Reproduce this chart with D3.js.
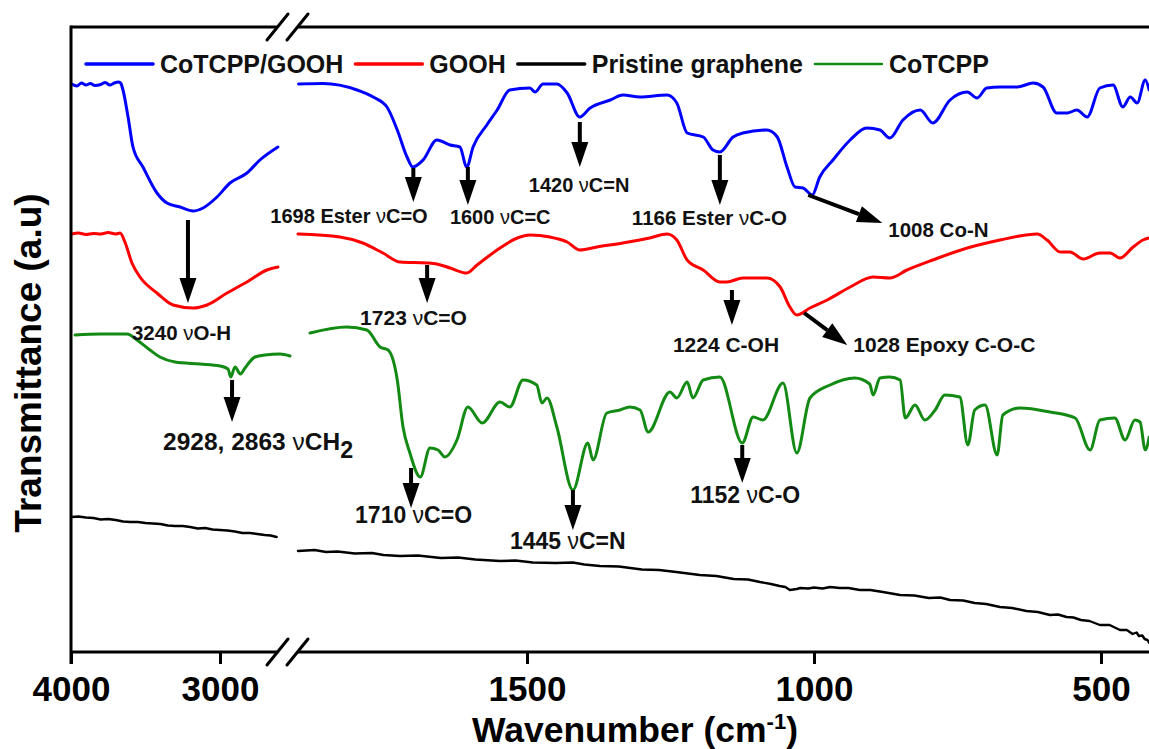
<!DOCTYPE html>
<html>
<head>
<meta charset="utf-8">
<script src="https://cdn.jsdelivr.net/npm/d3@7"></script>
<style>
  html, body { margin: 0; padding: 0; background: #fff; }
  svg { display: block; font-family: "Liberation Sans", Arial, sans-serif; font-weight: bold; }
</style>
</head>
<body>
<svg id="chart" width="1149" height="749"></svg>
<script>
// ---- FTIR spectra: wavenumber (cm-1) vs transmittance (a.u., offset traces) ----
const seriesNames = ["CoTCPP/GOOH", "GOOH", "Pristine graphene", "CoTCPP"];
const seriesColors = ["#0000ff", "#ff0000", "#000000", "#138a13"];

// High-wavenumber window (4000 - 2520 cm-1)
const blueHighWn  = [3995, 3960, 3930, 3900, 3870, 3840, 3800, 3770, 3740, 3710, 3680, 3665, 3651, 3617, 3584, 3517, 3423, 3356, 3268, 3181, 3114, 3020, 2933, 2819, 2732, 2611];
const blueHighT   = [113.6, 113.2, 113.8, 113.4, 113.7, 113.3, 113.5, 113.9, 113.4, 113.8, 114.0, 113.7, 112.4, 107, 101, 97, 91.8, 89.8, 89, 88.2, 88.8, 91, 93.8, 95.8, 98.4, 101];
const redHighWn   = [3995, 3950, 3900, 3850, 3800, 3750, 3700, 3671, 3638, 3591, 3537, 3423, 3315, 3181, 3087, 2953, 2819, 2685, 2611];
const redHighT    = [83.6, 83.8, 83.5, 83.7, 83.6, 83.9, 83.6, 83.8, 82, 77.8, 75, 71.8, 69.4, 68.8, 69.4, 71.8, 74, 76.4, 77];
const greenHighWn = [3973, 3805, 3624, 3557, 3470, 3403, 3302, 3134, 3000, 2946, 2928, 2899, 2863, 2832, 2765, 2698, 2597, 2530];
const greenHighT  = [63.4, 63.6, 63.6, 62.4, 60.4, 59, 58, 57.6, 57.2, 56.6, 55.0, 57.0, 55.6, 56.8, 59, 59.4, 59.6, 59.2];
const blackHighWn = [3995, 3950, 3900, 3850, 3800, 3750, 3700, 3650, 3600, 3550, 3500, 3450, 3400, 3350, 3300, 3250, 3200, 3150, 3100, 3050, 3000, 2950, 2900, 2850, 2800, 2750, 2700, 2660, 2620];
const blackHighT  = [27, 27.1, 26.9, 26.8, 26.5, 26.6, 26.4, 26.1, 26, 26.0, 25.8, 25.7, 25.6, 25.3, 25.2, 25.2, 25, 24.7, 24.8, 24.5, 24.4, 24.3, 24.1, 23.8, 23.8, 23.6, 23.4, 23.3, 23];

// Fingerprint window (1900 - 400 cm-1)
const blueLowWn  = [1898, 1855, 1796, 1768, 1744, 1726, 1709, 1699, 1681, 1657, 1634, 1617, 1605, 1594, 1570, 1552, 1530, 1495, 1486, 1472, 1448, 1430, 1408, 1390, 1355, 1333, 1303, 1256, 1239, 1221, 1193, 1176, 1164, 1141, 1124, 1082, 1064, 1047, 1033, 1019, 1003, 990, 967, 937, 908, 885, 868, 845, 815, 793, 763, 733, 716, 699, 676, 646, 618, 601, 577, 559, 542, 524, 502, 479, 462, 449, 437, 423, 416];
const blueLowT   = [113.6, 113.7, 112.4, 111, 109, 104.4, 99, 97, 98.4, 102.4, 101.4, 101, 97, 101, 105.4, 108.4, 112.4, 112.8, 112, 113.6, 113.6, 111.8, 107, 108.8, 110.4, 111.4, 111, 111.4, 109.8, 103.8, 103, 100.4, 100, 103, 103.8, 104.4, 103, 97, 93, 92.8, 91.4, 95, 98.4, 102.4, 104.8, 104.4, 102.8, 106.4, 108.4, 105.8, 110.4, 112, 110.8, 112.8, 113, 113, 113.8, 113, 107.8, 107.8, 108.4, 107, 112.8, 113.4, 109, 111, 109.8, 114.4, 112.4];
const redLowWn   = [1899, 1826, 1786, 1751, 1721, 1674, 1657, 1634, 1605, 1587, 1552, 1517, 1495, 1460, 1430, 1408, 1378, 1333, 1286, 1256, 1239, 1221, 1193, 1164, 1152, 1124, 1082, 1059, 1042, 1030, 1007, 977, 937, 897, 868, 838, 793, 733, 676, 611, 594, 571, 554, 531, 502, 484, 467, 444, 427, 416];
const redLowT    = [83.6, 83, 81.8, 79.8, 78, 77.8, 77.6, 76.8, 75.8, 77.4, 80.4, 82.8, 83.4, 83, 82, 80.4, 81, 81.8, 82.8, 83.6, 82.4, 78.4, 76.4, 74, 74, 74.8, 74.8, 73, 69, 67.4, 68.8, 70.4, 73, 75, 74.8, 76.4, 78.4, 80.8, 82.4, 83.6, 82.4, 80, 80, 78.6, 79.8, 79.8, 78.8, 81, 82.4, 82.8];
const greenLowWn = [1878, 1814, 1779, 1756, 1742, 1726, 1716, 1704, 1686, 1669, 1655, 1643, 1622, 1603, 1578, 1547, 1530, 1507, 1483, 1474, 1465, 1448, 1420, 1394, 1385, 1361, 1338, 1321, 1303, 1289, 1251, 1239, 1221, 1211, 1193, 1164, 1125, 1106, 1089, 1054, 1030, 1007, 972, 929, 903, 897, 885, 868, 850, 841, 824, 807, 789, 772, 746, 732, 720, 702, 681, 671, 641, 589, 545, 519, 502, 476, 458, 441, 432, 423, 416];
const greenLowT  = [63.8, 65, 64.4, 61, 60.4, 54.4, 45, 39.8, 35, 40.8, 40.4, 39, 42.4, 49, 45.8, 50, 49, 54.4, 53.4, 49.8, 50.8, 45, 32.4, 41.8, 38.4, 47.8, 48.4, 49, 48.4, 44, 52, 50.8, 54, 50.8, 54.4, 55, 41.8, 47, 46.4, 53.8, 39.8, 50.8, 53.4, 54.8, 53.6, 51.4, 54.8, 55, 54.4, 46.8, 49.4, 46.4, 48.4, 51.4, 51, 41.4, 48.4, 49.4, 39.4, 47.4, 48.8, 48, 46.8, 40.4, 46.4, 46.8, 42.4, 46.4, 46, 40.4, 43];
const blackLowWn = [1899, 1870, 1850, 1830, 1800, 1770, 1750, 1721, 1690, 1650, 1620, 1590, 1547, 1520, 1490, 1450, 1420, 1400, 1373, 1340, 1300, 1270, 1240, 1199, 1170, 1140, 1115, 1094, 1075, 1060, 1050, 1042, 1030, 1024, 1010, 1000, 985, 972, 955, 940, 920, 902, 880, 850, 825, 800, 780, 763, 740, 720, 700, 676, 655, 630, 610, 589, 575, 560, 548, 535, 520, 502, 485, 467, 455, 445, 438, 434, 428, 424, 419, 416];
const blackLowT  = [20.2, 20.4, 20.0, 20.1, 19.7, 19.8, 19.4, 19.2, 19.3, 18.8, 18.9, 18.5, 18.2, 18.3, 17.9, 17.8, 17.9, 17.5, 17.2, 17.1, 16.5, 16.4, 16.0, 15.4, 15.2, 14.6, 14.5, 14.0, 13.6, 13.2, 13.0, 12.4, 12.6, 12.8, 12.7, 12.9, 12.7, 13.0, 12.8, 12.8, 12.4, 12.4, 12.0, 11.4, 11.3, 10.8, 10.9, 10.4, 10.3, 9.8, 9.6, 9.0, 8.8, 8.2, 8.0, 7.4, 7.5, 7.0, 6.9, 6.4, 6.2, 5.4, 5.4, 4.4, 4.4, 3.6, 3.9, 3.2, 3.3, 2.6, 2.4, 1.8];

// Tick labels on the broken wavenumber axis
const highTicks = [4000, 3000];
const lowTicks  = [1500, 1000, 500];

// Band assignments: arrow wavenumber, arrow start/end transmittance
const bands = [
  { label: "3240 νO-H",        part: "high", w: 3215, from: 86.4, to: 69.8 },
  { label: "1698 Ester νC=O",  part: "low",  w: 1698, from: 96.8, to: 90.0 },
  { label: "1600 νC=C",        part: "low",  w: 1603, from: 97.0, to: 89.4 },
  { label: "1420 νC=N",        part: "low",  w: 1408, from: 106.0, to: 97.0 },
  { label: "1166 Ester νC-O",  part: "low",  w: 1164, from: 99.4, to: 89.4 },
  { label: "1008 Co-N",        part: "low",  w: 1010, from: 91.4, w2: 881, to: 85.8 },
  { label: "1723 νC=O",        part: "low",  w: 1674, from: 77.4, to: 69.8 },
  { label: "1224 C-OH",        part: "low",  w: 1143, from: 72.4, to: 65.4 },
  { label: "1028 Epoxy C-O-C", part: "low",  w: 1017, from: 67.8, w2: 942, to: 61.4 },
  { label: "2928, 2863 νCH_2", part: "high", w: 2919, from: 54.4, to: 46.0 },
  { label: "1710 νC=O",        part: "low",  w: 1702, from: 36.8, to: 28.8 },
  { label: "1445 νC=N",        part: "low",  w: 1420, from: 32.4, to: 24.4 },
  { label: "1152 νC-O",        part: "low",  w: 1125, from: 41.4, to: 33.8 }
];
// label placement relative to the arrow tip (px) and font size
const bandLayout = [
  { dx: -56, dy: 37, size: 20.5 },
  { dx: -143, dy: 21, size: 20 },
  { dx: -18, dy: 19, size: 20 },
  { dx: -51, dy: 25, size: 20 },
  { dx: -88, dy: 20, size: 20.5 },
  { dx: 6, dy: 14, size: 20.5 },
  { dx: -67, dy: 22, size: 21 },
  { dx: -59, dy: 27, size: 21 },
  { dx: 6, dy: 7, size: 21 },
  { dx: -69, dy: 28, size: 24.5 },
  { dx: -56, dy: 15, size: 23 },
  { dx: -63, dy: 19, size: 23 },
  { dx: -52, dy: 20, size: 23 }
];

const svg = d3.select("#chart");
const plotLeft = 71, plotTop = 27, plotBottom = 652, plotRight = 1149;

const xHigh = d3.scaleLinear().domain([4000, 2520]).range([plotLeft, 291.5]);
const xLow  = d3.scaleLinear().domain([1900, 400]).range([297.4, 1158.4]);
const y = d3.scaleLinear().domain([0, 125]).range([plotBottom, plotTop]);
const breakA = 277.5, breakB = 297.5;

svg.append("defs").append("clipPath").attr("id", "plotClip")
  .append("rect").attr("x", plotLeft).attr("y", plotTop)
  .attr("width", plotRight - plotLeft).attr("height", plotBottom - plotTop);

const zip = (a, b) => a.map((v, i) => [v, b[i]]);
const traces = [
  { part: "high", data: zip(blueHighWn, blueHighT),   color: seriesColors[0], width: 3,   smooth: true },
  { part: "low",  data: zip(blueLowWn, blueLowT),     color: seriesColors[0], width: 3,   smooth: true },
  { part: "high", data: zip(redHighWn, redHighT),     color: seriesColors[1], width: 3,   smooth: true },
  { part: "low",  data: zip(redLowWn, redLowT),       color: seriesColors[1], width: 3,   smooth: true },
  { part: "high", data: zip(blackHighWn, blackHighT), color: seriesColors[2], width: 2.4, smooth: false },
  { part: "low",  data: zip(blackLowWn, blackLowT),   color: seriesColors[2], width: 2.4, smooth: false },
  { part: "high", data: zip(greenHighWn, greenHighT), color: seriesColors[3], width: 3,   smooth: true },
  { part: "low",  data: zip(greenLowWn, greenLowT),   color: seriesColors[3], width: 3,   smooth: true }
];

const plot = svg.append("g").attr("clip-path", "url(#plotClip)");
traces.forEach(t => {
  const xs = t.part === "high" ? xHigh : xLow;
  const line = d3.line().x(d => xs(d[0])).y(d => y(d[1]))
    .curve(t.smooth ? d3.curveMonotoneX : d3.curveLinear);
  plot.append("path").datum(t.data)
    .attr("d", line)
    .attr("fill", "none")
    .attr("stroke", t.color)
    .attr("stroke-width", t.width)
    .attr("stroke-linejoin", "round")
    .attr("stroke-linecap", "round");
});

// ---- frame with axis break ----
const frame = svg.append("g").attr("stroke", "#000").attr("stroke-width", 3).attr("fill", "none");
frame.append("line").attr("x1", plotLeft).attr("x2", plotLeft).attr("y1", plotTop - 1.5).attr("y2", plotBottom + 12);
[plotTop, plotBottom].forEach(yy => {
  frame.append("line").attr("x1", plotLeft).attr("x2", breakA).attr("y1", yy).attr("y2", yy);
  frame.append("line").attr("x1", breakB).attr("x2", plotRight).attr("y1", yy).attr("y2", yy);
  [breakA, breakB].forEach(bx => {
    frame.append("line").attr("stroke-width", 3).attr("stroke-linecap", "round")
      .attr("x1", bx - 10.5).attr("y1", yy + 13).attr("x2", bx + 10.5).attr("y2", yy - 13);
  });
});

// ---- bottom axes ----
function styleAxis(g) {
  g.select(".domain").remove();
  g.selectAll(".tick line").attr("stroke", "#000").attr("stroke-width", 3);
  g.selectAll(".tick text")
    .attr("fill", "#000")
    .style("font-family", '"Liberation Sans", Arial, sans-serif')
    .style("font-weight", "bold")
    .style("font-size", "35px");
}
svg.append("g").attr("transform", `translate(0,${plotBottom})`)
  .call(d3.axisBottom(xHigh).tickValues(highTicks).tickSize(12).tickPadding(12).tickFormat(d3.format("d")))
  .call(styleAxis);
svg.append("g").attr("transform", `translate(0,${plotBottom})`)
  .call(d3.axisBottom(xLow).tickValues(lowTicks).tickSize(12).tickPadding(12).tickFormat(d3.format("d")))
  .call(styleAxis);

// ---- axis titles ----
const xt = svg.append("text").attr("x", 635).attr("y", 742).attr("text-anchor", "middle")
  .style("font-size", "35.5px").attr("fill", "#000");
xt.append("tspan").text("Wavenumber (cm");
xt.append("tspan").text("-1").attr("dy", -13).style("font-size", "22px");
xt.append("tspan").text(")").attr("dy", 13);

svg.append("text").attr("transform", "translate(41,363) rotate(-90)")
  .attr("text-anchor", "middle").style("font-size", "37px").attr("fill", "#000")
  .text("Transmittance (a.u)");

// ---- legend ----
const legend = svg.append("g").attr("transform", "translate(86,64)");
let lx = 0;
[0, 1, 2, 3].forEach(i => {
  legend.append("line").attr("x1", lx).attr("x2", lx + 67).attr("y1", 0).attr("y2", 0)
    .attr("stroke", seriesColors[i]).attr("stroke-width", i === 3 ? 2.5 : 3.5)
    .attr("stroke-linecap", "round");
  const t = legend.append("text").attr("x", lx + 74).attr("y", 9)
    .style("font-size", "25px").attr("fill", "#111").text(seriesNames[i]);
  lx += 74 + t.node().getComputedTextLength() + 12;
});

// ---- band annotations ----
const ann = svg.append("g");
function arrow(g, x0, y0, x1, y1) {
  const dx = x1 - x0, dy = y1 - y0, len = Math.hypot(dx, dy);
  const ux = dx / len, uy = dy / len, hl = 25, hw = 8.5;
  const bx = x1 - ux * hl, by = y1 - uy * hl;
  g.append("line").attr("x1", x0).attr("y1", y0).attr("x2", bx).attr("y2", by)
    .attr("stroke", "#000").attr("stroke-width", 4);
  g.append("path")
    .attr("d", d3.line()([[x1, y1], [bx - uy * hw, by + ux * hw], [bx + uy * hw, by - ux * hw]]) + "Z")
    .attr("fill", "#000");
}
bands.forEach((b, i) => {
  const lay = bandLayout[i];
  const xs = b.part === "high" ? xHigh : xLow;
  const x0 = xs(b.w), y0 = y(b.from);
  const x1 = b.w2 !== undefined ? xs(b.w2) : x0, y1 = y(b.to);
  arrow(ann, x0, y0, x1, y1);
  const t = ann.append("text").attr("x", x1 + lay.dx).attr("y", y1 + lay.dy)
    .style("font-size", lay.size + "px").attr("fill", "#111");
  const parts = b.label.split("ν");
  t.append("tspan").text(parts[0]);
  if (parts.length > 1) {
    t.append("tspan").text("ν").style("font-weight", "normal");
    const rest = parts[1].split("_");
    t.append("tspan").text(rest[0]);
    if (rest.length > 1) {
      t.append("tspan").text(rest[1]).attr("dy", 8).style("font-size", (lay.size * 0.95) + "px");
    }
  }
});
</script>
</body>
</html>
